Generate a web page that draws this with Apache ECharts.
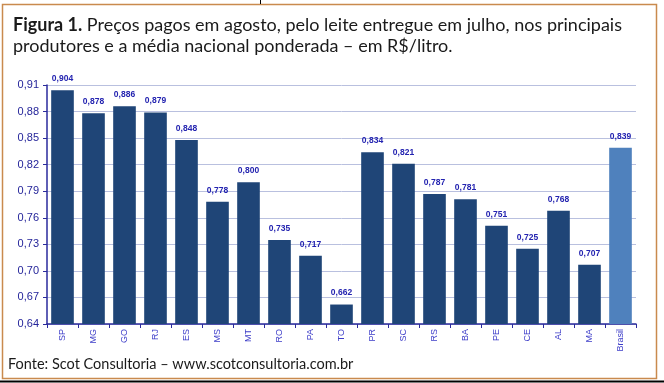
<!DOCTYPE html>
<html><head><meta charset="utf-8">
<script src="https://cdn.jsdelivr.net/npm/echarts@6/dist/echarts.min.js"></script>
<style>html,body{margin:0;padding:0;background:#fff}#c{width:664px;height:383px}</style>
</head><body><div id="c"></div>
<script>
const categories = ['SP','MG','GO','RJ','ES','MS','MT','RO','PA','TO','PR','SC','RS','BA','PE','CE','AL','MA','Brasil'];
const values = [0.904,0.878,0.886,0.879,0.848,0.778,0.800,0.735,0.717,0.662,0.834,0.821,0.787,0.781,0.751,0.725,0.768,0.707,0.839];
const highlight = ['Brasil'];
const titleBold = 'Figura 1.';
const titleRest = ' Preços pagos em agosto, pelo leite entregue em julho, nos principais';
const titleLine2 = 'produtores e a média nacional ponderada – em R$/litro.';
const source = 'Fonte: Scot Consultoria – www.scotconsultoria.com.br';

const fmt = v => v.toFixed(3).replace('.', ',');
const chart = echarts.init(document.getElementById('c'), null, {renderer:'canvas'});
chart.setOption({
  animation:false,
  backgroundColor:'#fff',
  title:{
    left:8, top:10,
    text:'{b|'+titleBold+'}{n|'+titleRest+'}\n{n|'+titleLine2+'}',
    textStyle:{
      fontWeight:'normal',
      rich:{
        b:{fontFamily:'Lato',fontWeight:'bold',fontSize:18,color:'#1a1a1a',lineHeight:21},
        n:{fontFamily:'Lato',fontWeight:'normal',fontSize:18,color:'#1a1a1a',lineHeight:21}
      }
    }
  },
  grid:{left:47,right:28,top:85,bottom:59,containLabel:false},
  xAxis:{
    type:'category', data:categories,
    axisLine:{lineStyle:{color:'#2a2a9c',width:1.5}},
    axisTick:{show:true,alignWithLabel:false,length:4,lineStyle:{color:'#2a2a9c'}},
    axisLabel:{rotate:90,fontFamily:'Liberation Sans',fontSize:9,color:'#3c3cc8',margin:5,interval:0}
  },
  yAxis:{
    type:'value', min:0.64, max:0.91, interval:0.03,
    axisLine:{show:true,lineStyle:{color:'#2a2a9c',width:1.5}},
    axisTick:{show:true,length:4,lineStyle:{color:'#2a2a9c'}},
    axisLabel:{fontFamily:'Liberation Sans',fontSize:11,color:'#25259a',margin:8,
      formatter:v=>v.toFixed(2).replace('.',',')},
    splitLine:{lineStyle:{color:'#b9c0df',width:1}}
  },
  series:[{
    type:'bar', barCategoryGap:'27%',
    data:values.map((v,i)=>({value:v,itemStyle:{color:highlight.includes(categories[i])?'#4f81bd':'#1f4577'}})),
    label:{show:true,position:'top',distance:7,fontFamily:'Liberation Sans',fontWeight:'bold',fontSize:8.5,color:'#2323b0',
      formatter:p=>fmt(p.value)}
  }],
  graphic:[
    {type:'rect',shape:{x:2.5,y:4.5,width:654,height:374},style:{fill:'none',stroke:'#c98a4e',lineWidth:1.5},z:-1},
    {type:'line',shape:{x1:0,y1:381.5,x2:664,y2:381.5},style:{stroke:'#000',lineWidth:2}},
    {type:'line',shape:{x1:260.5,y1:0,x2:260.5,y2:4},style:{stroke:'#000',lineWidth:1}},
    {type:'text',left:8,top:357,style:{text:source,fontFamily:'Lato',fontSize:14.5,fill:'#1a1a1a'}}
  ]
});
</script></body></html>
